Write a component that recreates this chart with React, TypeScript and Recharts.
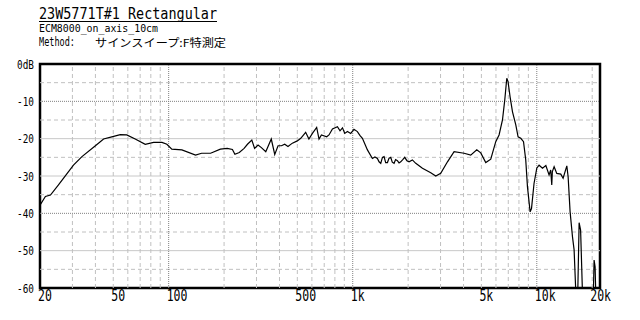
import { LineChart, Line, XAxis, YAxis, ReferenceLine, ReferenceArea } from "recharts"

const freqHz = [
  20, 21.4, 22.8, 25.2, 30.4, 33.8, 40, 44.3, 49.1, 54.6, 59.2, 65.8, 74.6, 82.8, 92, 97.8,
  104, 118, 140, 151, 169, 191, 208, 222, 229, 242, 257, 268, 283, 293, 306, 319, 337, 361,
  377, 393, 410, 427, 445, 470, 500, 522, 555, 578, 604, 637, 656, 676, 722, 743, 776, 826,
  853, 880, 905, 936, 975, 1016, 1060, 1096, 1129, 1202, 1279, 1320, 1362, 1390, 1420, 1450,
  1480, 1510, 1544, 1575, 1609, 1640, 1677, 1710, 1749, 1785, 1823, 1870, 1916, 1970, 2023,
  2110, 2200, 2392, 2654, 2826, 3007, 3272, 3554, 4028, 4376, 4720, 4962, 5282, 5623, 5985,
  6238, 6510, 6700, 6870, 6980, 7160, 7380, 7690, 7914, 8185, 8470, 8710, 8900, 9200, 9360,
  9660, 10000, 10290, 10740, 11200, 11660, 11900, 12060, 12150, 12420, 12840, 13500, 13900,
  14560, 14800, 15170, 15630, 15950, 16290, 16700, 16980, 17300, 17700, 20300, 20480, 20740,
  20900, 22050,
]
const levelDb = [
  -37.8, -35.5, -35.1, -32.4, -27.1, -24.8, -21.9, -20.1, -19.5, -18.9, -19.0, -20.1, -21.5, -21.0, -21.0, -21.5,
  -22.8, -23.0, -24.4, -23.9, -23.9, -22.8, -22.6, -22.9, -24.2, -23.7, -22.6, -21.5, -20.4, -22.6, -21.7, -22.4, -23.5, -20.1,
  -24.2, -21.9, -21.9, -21.5, -22.1, -21.2, -20.6, -19.9, -18.3, -20.1, -18.6, -17.0, -20.1, -19.0, -19.5, -19.0, -17.4, -16.8,
  -17.9, -17.1, -18.6, -18.1, -18.6, -17.5, -18.1, -19.2, -19.9, -23.0, -25.3, -24.9, -25.3, -26.2, -26.6, -25.0,
  -24.8, -26.4, -26.4, -25.2, -25.0, -26.3, -26.6, -25.6, -25.9, -26.5, -26.2, -25.6, -25.0, -25.9, -26.2,
  -25.7, -26.6, -27.9, -29.1, -30.0, -29.3, -26.2, -23.5, -23.9, -24.4, -23.0, -23.8, -26.4, -25.5, -20.8,
  -19.0, -15.0, -9.6, -3.8, -4.7, -8.8, -12.8, -16.3, -19.5, -19.9, -20.8, -25.7, -32.9, -39.6, -38.7,
  -32.0, -27.9, -27.1, -27.9, -27.2, -29.7, -28.4, -32.4, -28.8, -27.5, -29.3, -29.5, -30.6,
  -27.3, -30.2, -39.6, -46.3, -49.8, -61, -61, -42.5, -44.5, -61, -61, -52.5, -54.3,
  -61, -61,
]

const xTickValues = [20, 50, 100, 500, 1000, 5000, 10000, 20000]
const xTickLabels = ["20", "50", "100", "500", "1k", "5k", "10k", "20k"]
const yTickValues = [0, -10, -20, -30, -40, -50, -60]
const yTickLabels = ["0dB", "-10", "-20", "-30", "-40", "-50", "-60"]

const xGridDotted = [100, 1000, 10000]
const xGridDashed = [
  30, 40, 50, 60, 70, 80, 90, 200, 300, 400, 500, 600, 700, 800, 900,
  2000, 3000, 4000, 5000, 6000, 7000, 8000, 9000, 20000,
]
const yGridDotted = [-10, -40]
const yGridSolid = [-20, -30, -50]
const yGridDashed = [-5, -15, -25, -35, -45, -55]

const data = freqHz.map((f, i) => ({ f, db: levelDb[i] }))

const mono = "'DejaVu Sans Mono', monospace"
const jp = "'Noto Sans CJK JP', sans-serif"

function FreqTick({ x, payload }: any) {
  const i = xTickValues.indexOf(payload.value)
  return (
    <g transform={`translate(${x - 2},301) scale(0.72,1)`}>
      <text x={0} y={0} fontFamily={mono} fontSize={16} fill="#000">
        {xTickLabels[i]}
      </text>
    </g>
  )
}

function LevelTick({ y, payload }: any) {
  const i = yTickValues.indexOf(payload.value)
  return (
    <g transform={`translate(34,${y + 4.5}) scale(0.72,1)`}>
      <text x={0} y={0} textAnchor="end" fontFamily={mono} fontSize={13} fill="#000">
        {yTickLabels[i]}
      </text>
    </g>
  )
}

export default function App() {
  return (
    <div style={{ position: "absolute", left: 0, top: 0, width: 640, height: 320, background: "#fff" }}>
      <svg width={640} height={64} style={{ position: "absolute", left: 0, top: 0 }}>
        <text x={39} y={19} fontFamily={mono} fontSize={16} textLength={178} lengthAdjust="spacingAndGlyphs">
          23W5771T#1 Rectangular
        </text>
        <line x1={39} x2={217} y1={21.5} y2={21.5} stroke="#000" strokeWidth={1} />
        <text x={39} y={32} fontFamily={mono} fontSize={10.5} textLength={119} lengthAdjust="spacingAndGlyphs">
          ECM8000_on_axis_10cm
        </text>
        <text x={39} y={46} fontFamily={mono} fontSize={11.5} textLength={36} lengthAdjust="spacingAndGlyphs">
          Method:
        </text>
        <text x={95} y={46.5} fontFamily={jp} fontSize={11} textLength={131} lengthAdjust="spacingAndGlyphs">
          サインスイープ:F特測定
        </text>
      </svg>
      <LineChart
        width={640}
        height={320}
        data={data}
        margin={{ top: 64, right: 40, bottom: 0, left: 0 }}
        style={{ position: "absolute", left: 0, top: 0 }}
      >
        <XAxis
          dataKey="f"
          type="number"
          scale="log"
          domain={[20, 22050]}
          allowDataOverflow
          ticks={xTickValues}
          tick={<FreqTick />}
          tickLine={false}
          axisLine={false}
          height={32}
          interval={0}
        />
        <YAxis
          type="number"
          domain={[-60, 0]}
          allowDataOverflow
          ticks={yTickValues}
          tick={<LevelTick />}
          tickLine={false}
          axisLine={false}
          width={40}
          interval={0}
        />
        {yGridDashed.map((v) => (
          <ReferenceLine key={`yd${v}`} y={v} stroke="#c0c0c0" strokeDasharray="4 3" />
        ))}
        {yGridSolid.map((v) => (
          <ReferenceLine key={`ys${v}`} y={v} stroke="#c8c8c8" />
        ))}
        {yGridDotted.map((v) => (
          <ReferenceLine key={`yo${v}`} y={v} stroke="#808080" strokeDasharray="1 1" />
        ))}
        {xGridDashed.map((v) => (
          <ReferenceLine key={`xd${v}`} x={v} stroke="#c0c0c0" strokeDasharray="4 3" />
        ))}
        {xGridDotted.map((v) => (
          <ReferenceLine key={`xo${v}`} x={v} stroke="#808080" strokeDasharray="1 1" />
        ))}
        <Line
          dataKey="db"
          type="linear"
          stroke="#000"
          strokeWidth={1.2}
          dot={false}
          isAnimationActive={false}
        />
        <ReferenceArea x1={20} x2={22050} y1={-60} y2={0} fill="none" stroke="#000" strokeWidth={2.5} />
      </LineChart>
    </div>
  )
}
